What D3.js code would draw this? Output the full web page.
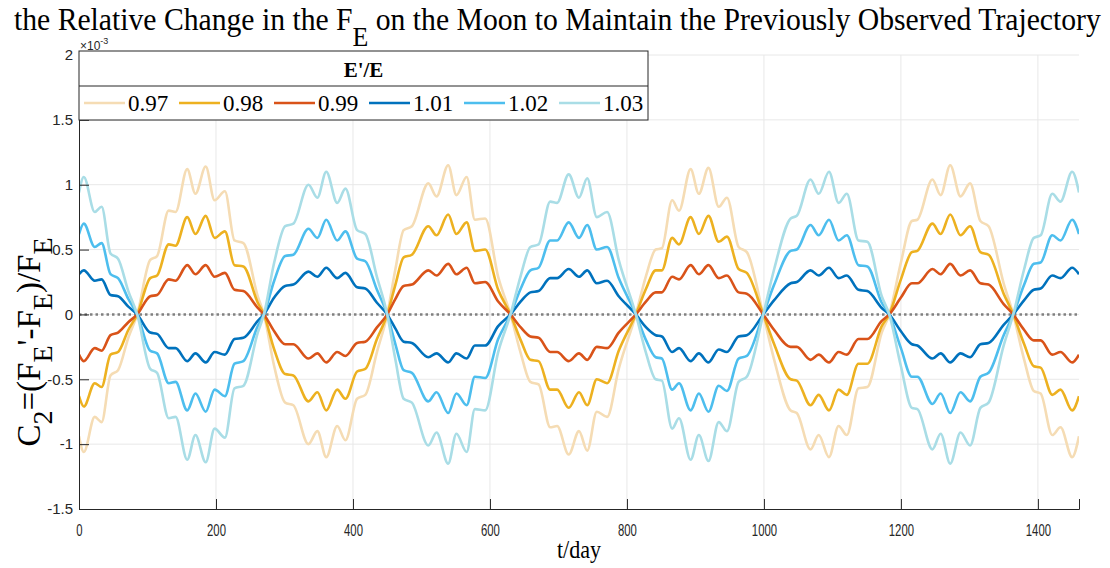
<!DOCTYPE html>
<html>
<head>
<meta charset="utf-8">
<script src="https://cdn.jsdelivr.net/npm/d3@7"></script>
<style>
  body { margin: 0; background: #fff; }
  svg { display: block; }
</style>
</head>
<body>
<div id="chart"></div>
<script>
const days = [0,7,23,33,46,57,72,85,
  104,114,131,141,158,170,185,198,213,227,240,261,270,
  285,301,313,335,348,361,377,389,406,418,435,450,
  462,474,486,510,522,539,551,566,578,593,612,630,
  645,659,671,688,698,715,730,742,756,771,788,813,
  828,842,851,866,876,893,905,919,934,946,963,975,999,
  1015,1039,1048,1068,1080,1095,1109,1121,1138,1151,1172,1183,
  1200,1216,1224,1246,1258,1272,1287,1301,1316,1328,1350,1364,
  1380,1394,1404,1421,1433,1450,1460];

// C2 values in units of 1e-3, one array per E'/E ratio
const c2_097 = [-0.94,-1.06,-0.79,-0.83,-0.47,-0.43,-0.18,0,
  0.42,0.45,0.80,0.79,1.12,0.93,1.14,0.88,0.95,0.57,0.55,0.14,0,
  -0.40,-0.68,-0.70,-1.00,-0.90,-1.10,-0.86,-0.97,-0.65,-0.62,-0.29,0,
  0.35,0.65,0.68,1.01,0.91,1.15,0.92,1.06,0.73,0.74,0.29,0,
  -0.30,-0.52,-0.54,-0.87,-0.86,-1.08,-0.90,-1.05,-0.75,-0.79,-0.42,0,
  0.30,0.50,0.51,0.88,0.80,1.12,0.93,1.13,0.83,0.90,0.52,0.48,0,
  -0.35,-0.74,-0.76,-1.04,-0.93,-1.10,-0.86,-0.93,-0.57,-0.56,-0.14,0,
  0.40,0.72,0.73,1.04,0.92,1.15,0.91,1.01,0.72,0.68,0.24,0,
  -0.35,-0.59,-0.61,-0.93,-0.87,-1.10,-0.94];

const c2_098 = [-0.63,-0.71,-0.53,-0.56,-0.31,-0.29,-0.12,0,
  0.28,0.30,0.54,0.53,0.75,0.62,0.76,0.59,0.64,0.38,0.37,0.09,0,
  -0.27,-0.46,-0.47,-0.67,-0.60,-0.74,-0.58,-0.65,-0.44,-0.42,-0.19,0,
  0.23,0.44,0.46,0.68,0.61,0.77,0.62,0.71,0.49,0.50,0.19,0,
  -0.20,-0.35,-0.36,-0.58,-0.58,-0.72,-0.60,-0.70,-0.50,-0.53,-0.28,0,
  0.20,0.34,0.34,0.59,0.54,0.75,0.62,0.76,0.56,0.60,0.35,0.32,0,
  -0.23,-0.50,-0.51,-0.70,-0.62,-0.74,-0.58,-0.62,-0.38,-0.38,-0.09,0,
  0.27,0.48,0.49,0.70,0.62,0.77,0.61,0.68,0.48,0.46,0.16,0,
  -0.23,-0.40,-0.41,-0.62,-0.58,-0.74,-0.63];

const c2_099 = [-0.31,-0.36,-0.26,-0.28,-0.16,-0.14,-0.06,0,
  0.14,0.15,0.27,0.26,0.38,0.31,0.38,0.29,0.32,0.19,0.18,0.05,0,
  -0.13,-0.23,-0.23,-0.34,-0.30,-0.37,-0.29,-0.32,-0.22,-0.21,-0.10,0,
  0.12,0.22,0.23,0.34,0.30,0.39,0.31,0.36,0.24,0.25,0.10,0,
  -0.10,-0.17,-0.18,-0.29,-0.29,-0.36,-0.30,-0.35,-0.25,-0.26,-0.14,0,
  0.10,0.17,0.17,0.29,0.27,0.38,0.31,0.38,0.28,0.30,0.17,0.16,0,
  -0.12,-0.25,-0.25,-0.35,-0.31,-0.37,-0.29,-0.31,-0.19,-0.19,-0.05,0,
  0.13,0.24,0.24,0.35,0.31,0.39,0.30,0.34,0.24,0.23,0.08,0,
  -0.12,-0.20,-0.20,-0.31,-0.29,-0.37,-0.31];

const c2_101 = [0.31,0.34,0.26,0.27,0.15,0.14,0.06,0,
  -0.14,-0.15,-0.26,-0.26,-0.36,-0.30,-0.37,-0.29,-0.31,-0.19,-0.18,-0.05,0,
  0.13,0.22,0.23,0.33,0.29,0.36,0.28,0.32,0.21,0.20,0.09,0,
  -0.11,-0.21,-0.22,-0.33,-0.30,-0.37,-0.30,-0.34,-0.24,-0.24,-0.09,0,
  0.10,0.17,0.18,0.28,0.28,0.35,0.29,0.34,0.24,0.26,0.14,0,
  -0.10,-0.16,-0.17,-0.29,-0.26,-0.36,-0.30,-0.37,-0.27,-0.29,-0.17,-0.16,0,
  0.11,0.24,0.25,0.34,0.30,0.36,0.28,0.30,0.19,0.18,0.05,0,
  -0.13,-0.23,-0.24,-0.34,-0.30,-0.37,-0.30,-0.33,-0.23,-0.22,-0.08,0,
  0.11,0.19,0.20,0.30,0.28,0.36,0.31];

const c2_102 = [0.62,0.70,0.52,0.55,0.31,0.28,0.12,0,
  -0.28,-0.30,-0.53,-0.52,-0.74,-0.61,-0.75,-0.58,-0.63,-0.38,-0.36,-0.09,0,
  0.26,0.45,0.46,0.66,0.59,0.73,0.57,0.64,0.43,0.41,0.19,0,
  -0.23,-0.43,-0.45,-0.67,-0.60,-0.76,-0.61,-0.70,-0.48,-0.49,-0.19,0,
  0.20,0.34,0.36,0.57,0.57,0.71,0.59,0.69,0.50,0.52,0.28,0,
  -0.20,-0.33,-0.34,-0.58,-0.53,-0.74,-0.61,-0.75,-0.55,-0.59,-0.34,-0.32,0,
  0.23,0.49,0.50,0.69,0.61,0.73,0.57,0.61,0.38,0.37,0.09,0,
  -0.26,-0.48,-0.48,-0.69,-0.61,-0.76,-0.60,-0.67,-0.48,-0.45,-0.16,0,
  0.23,0.39,0.40,0.61,0.57,0.73,0.62];

const c2_103 = [0.94,1.06,0.79,0.83,0.47,0.43,0.18,0,
  -0.42,-0.45,-0.80,-0.79,-1.12,-0.93,-1.14,-0.88,-0.95,-0.57,-0.55,-0.14,0,
  0.40,0.68,0.70,1.00,0.90,1.10,0.86,0.97,0.65,0.62,0.29,0,
  -0.35,-0.65,-0.68,-1.01,-0.91,-1.15,-0.92,-1.06,-0.73,-0.74,-0.29,0,
  0.30,0.52,0.54,0.87,0.86,1.08,0.90,1.05,0.75,0.79,0.42,0,
  -0.30,-0.50,-0.51,-0.88,-0.80,-1.12,-0.93,-1.13,-0.83,-0.90,-0.52,-0.48,0,
  0.35,0.74,0.76,1.04,0.93,1.10,0.86,0.93,0.57,0.56,0.14,0,
  -0.40,-0.72,-0.73,-1.04,-0.92,-1.15,-0.91,-1.01,-0.72,-0.68,-0.24,0,
  0.35,0.59,0.61,0.93,0.87,1.10,0.94];

const seriesNames = ["0.97", "0.98", "0.99", "1.01", "1.02", "1.03"];
const seriesValues = [c2_097, c2_098, c2_099, c2_101, c2_102, c2_103];
const seriesColors = ["#f5dcb4", "#edb120", "#d95319", "#0072bd", "#4dbeee", "#a9dde6"];

const xTicks = [0, 200, 400, 600, 800, 1000, 1200, 1400];
const yTicks = [-1.5, -1, -0.5, 0, 0.5, 1, 1.5, 2];
const yTickLabels = ["-1.5", "-1", "-0.5", "0", "0.5", "1", "1.5", "2"];

// Canvas and plot area
const W = 1110, H = 568;
const margin = { top: 55, right: 31, bottom: 59, left: 79 };
const plotW = W - margin.left - margin.right,
  plotH = H - margin.top - margin.bottom;

const serif = "'Liberation Serif', 'Times New Roman', serif";
const sans = "'Liberation Sans', Arial, sans-serif";

const svg = d3.select("#chart")
  .append("svg")
  .attr("width", W)
  .attr("height", H)
  .style("background", "#fff");

const x = d3.scaleLinear().domain([0, 1460]).range([0, plotW]);
const y = d3.scaleLinear().domain([-1.5, 2]).range([plotH, 0]);

const g = svg.append("g")
  .attr("transform", `translate(${margin.left},${margin.top})`);

g.append("defs").append("clipPath")
  .attr("id", "clip")
  .append("rect")
  .attr("width", plotW)
  .attr("height", plotH);

// Grid lines
g.append("g")
  .selectAll("line")
  .data(xTicks.slice(1))
  .join("line")
  .attr("x1", d => x(d)).attr("x2", d => x(d))
  .attr("y1", 0).attr("y2", plotH)
  .attr("stroke", "#e8e8e8")
  .attr("stroke-width", 1);

g.append("g")
  .selectAll("line")
  .data(yTicks.slice(1))
  .join("line")
  .attr("x1", 0).attr("x2", plotW)
  .attr("y1", d => y(d)).attr("y2", d => y(d))
  .attr("stroke", "#e8e8e8")
  .attr("stroke-width", 1);

// Zero reference line (dotted)
g.append("line")
  .attr("x1", 0).attr("x2", plotW)
  .attr("y1", y(0)).attr("y2", y(0))
  .attr("stroke", "#808080")
  .attr("stroke-width", 2.5)
  .attr("stroke-dasharray", "2.5,3");

// Curves
const line = d3.line()
  .curve(d3.curveMonotoneX)
  .x((d, i) => x(days[i]))
  .y(d => y(d));

g.append("g")
  .attr("clip-path", "url(#clip)")
  .selectAll("path")
  .data(seriesValues)
  .join("path")
  .attr("fill", "none")
  .attr("stroke", (d, i) => seriesColors[i])
  .attr("stroke-width", 2.6)
  .attr("stroke-linejoin", "round")
  .attr("d", line);

// Axes (box off, ticks pointing inward)
const xAxis = g.append("g")
  .attr("transform", `translate(0,${plotH})`)
  .call(d3.axisBottom(x).tickValues(xTicks).tickSize(-10).tickPadding(15).tickFormat(d3.format("d")));

const yAxis = g.append("g")
  .call(d3.axisLeft(y).tickValues(yTicks).tickSize(-10).tickPadding(6)
    .tickFormat((d, i) => yTickLabels[i]));

[xAxis, yAxis].forEach(ax => {
  ax.select(".domain").attr("stroke", "#262626").attr("stroke-width", 1);
  ax.selectAll(".tick line").attr("stroke", "#262626").attr("stroke-width", 1);
  ax.selectAll(".tick text").attr("fill", "#262626");
});
// x tick labels are drawn condensed in the reference
xAxis.selectAll(".tick text")
  .style("font-family", sans)
  .style("font-size", "17px")
  .attr("textLength", d => String(d).length * 6.3)
  .attr("lengthAdjust", "spacingAndGlyphs");
yAxis.selectAll(".tick text")
  .style("font-family", sans)
  .style("font-size", "15px");

// Exponent label
const expo = svg.append("text")
  .attr("x", margin.left + 1)
  .attr("y", 50)
  .attr("fill", "#262626")
  .style("font-family", sans)
  .style("font-size", "12px");
expo.append("tspan").text("\u00d710");
expo.append("tspan").attr("dy", -6).style("font-size", "9px").text("-3");

// Title, squeezed to the width it has in the reference
const title = svg.append("text")
  .attr("x", 0)
  .attr("y", 30)
  .attr("fill", "#000")
  .style("font-family", serif)
  .style("font-size", "31px");
title.append("tspan").text("the Relative Change in the F");
title.append("tspan").attr("dy", 16).style("font-size", "27px").text("E");
title.append("tspan").attr("dy", -16).text(" on the Moon to Maintain the Previously Observed Trajectory");
const tw = title.node().getBBox().width;
title.attr("transform", `translate(14,0) scale(${1088 / tw},1)`);

// Axis labels
const xlab = svg.append("text")
  .attr("x", 0)
  .attr("y", 558)
  .attr("text-anchor", "middle")
  .style("font-family", serif)
  .style("font-size", "26px")
  .text("t/day");
xlab.attr("transform", `translate(${margin.left + plotW / 2},0) scale(0.85,1)`);

const ylab = svg.append("text")
  .attr("transform", `translate(40,${margin.top + plotH / 2 + 60}) rotate(-90)`)
  .attr("text-anchor", "middle")
  .style("font-family", serif)
  .style("font-size", "33px");
ylab.append("tspan").text("C");
ylab.append("tspan").attr("dy", 12).style("font-size", "28px").text("2");
ylab.append("tspan").attr("dy", -12).text("=(F");
ylab.append("tspan").attr("dy", 12).style("font-size", "28px").text("E");
ylab.append("tspan").attr("dy", -12).text("'-F");
ylab.append("tspan").attr("dy", 12).style("font-size", "28px").text("E");
ylab.append("tspan").attr("dy", -12).text(")/F");
ylab.append("tspan").attr("dy", 12).style("font-size", "28px").text("E");

// Legend
const legX = margin.left, legY = margin.top - 4, legW = 569, legH = 69, legSplit = 35;
const leg = svg.append("g").attr("transform", `translate(${legX},${legY})`);
leg.append("rect")
  .attr("width", legW).attr("height", legH)
  .attr("fill", "#fff")
  .attr("stroke", "#262626").attr("stroke-width", 1);
leg.append("line")
  .attr("x1", 0).attr("x2", legW)
  .attr("y1", legSplit).attr("y2", legSplit)
  .attr("stroke", "#262626").attr("stroke-width", 1);
leg.append("text")
  .attr("x", legW / 2).attr("y", 26)
  .attr("text-anchor", "middle")
  .style("font-family", serif)
  .style("font-size", "21px")
  .style("font-weight", "bold")
  .text("E'/E");

const entry = leg.selectAll("g.entry")
  .data(seriesNames)
  .join("g")
  .attr("class", "entry")
  .attr("transform", (d, i) => `translate(${5 + i * 95},${legSplit + 17})`);
entry.append("line")
  .attr("x1", 0).attr("x2", 41)
  .attr("stroke", (d, i) => seriesColors[i])
  .attr("stroke-width", 2.6);
entry.append("text")
  .attr("x", 44).attr("y", 8)
  .style("font-family", serif)
  .style("font-size", "23px")
  .text(d => d);
</script>
</body>
</html>
